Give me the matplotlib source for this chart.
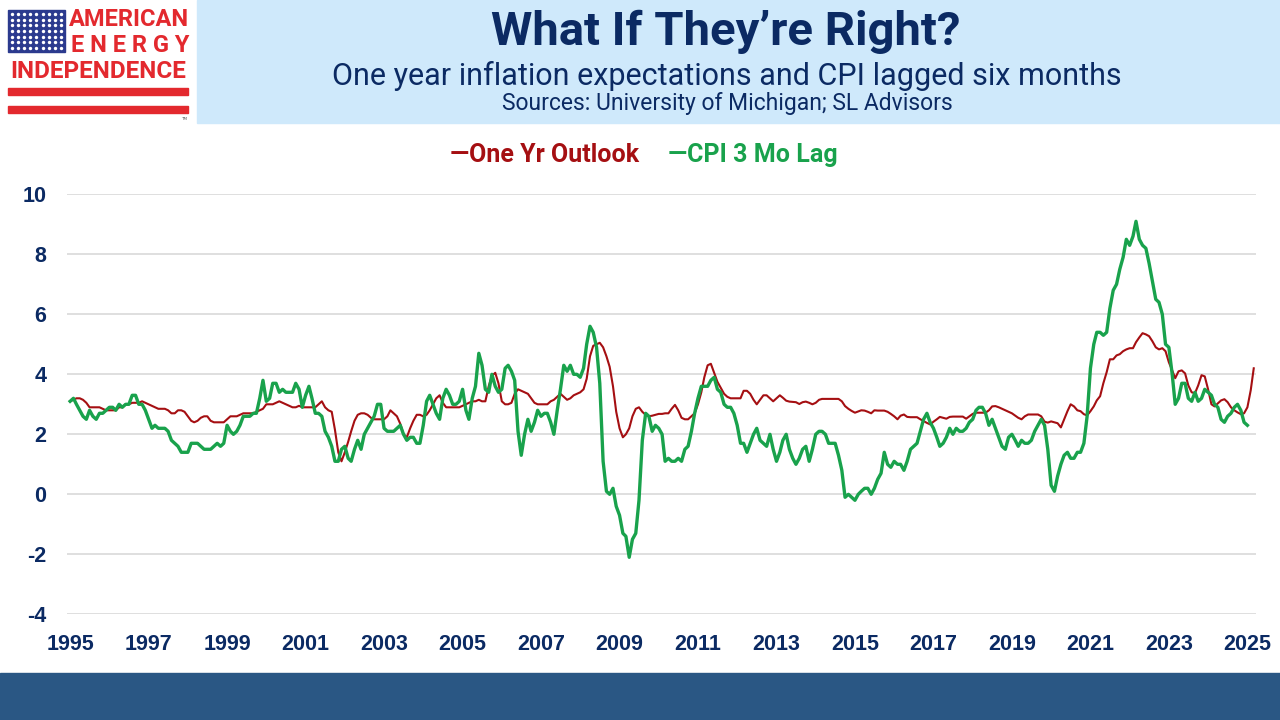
import numpy as np
import pandas as pd
import matplotlib
matplotlib.use("Agg")
import matplotlib.pyplot as plt
from matplotlib.patches import Rectangle

plt.rcParams['axes.unicode_minus'] = False

# University of Michigan one year outlook (3 mo avg), monthly from Jan 1995
outlook_start = "1995-01-01"
outlook = [
    3.1, 3.15, 3.2, 3.2, 3.15, 3.05, 2.9, 2.9, 2.9, 2.9, 2.85, 2.8,
    2.8, 2.8, 2.8, 2.9, 2.9, 3.0, 3.0, 3.05, 3.05, 3.05, 3.1, 3.05,
    3.0, 2.95, 2.9, 2.85, 2.85, 2.85, 2.8, 2.7, 2.7, 2.8, 2.8, 2.75,
    2.6, 2.45, 2.4, 2.45, 2.55, 2.6, 2.6, 2.45, 2.4, 2.4, 2.4, 2.4,
    2.5, 2.6, 2.6, 2.6, 2.65, 2.7, 2.7, 2.7, 2.7, 2.75, 2.8, 2.85,
    3.0, 3.0, 3.0, 3.05, 3.1, 3.05, 3.0, 2.95, 2.9, 2.9, 2.95, 2.9,
    2.9, 2.9, 2.9, 2.9, 3.0, 3.1, 2.9, 2.8, 2.75, 2.15, 1.4, 1.1,
    1.4, 1.75, 2.1, 2.45, 2.65, 2.7, 2.7, 2.65, 2.55, 2.5, 2.5, 2.5,
    2.5, 2.6, 2.8, 2.7, 2.6, 2.35, 2.0, 1.9, 2.2, 2.45, 2.65, 2.65,
    2.6, 2.65, 2.8, 3.0, 3.2, 3.3, 3.05, 2.9, 2.9, 2.9, 2.9, 2.9,
    2.95, 3.0, 3.05, 3.1, 3.1, 3.15, 3.1, 3.1, 3.6, 3.95, 4.05, 3.7,
    3.1, 3.0, 3.0, 3.05, 3.35, 3.5, 3.45, 3.4, 3.35, 3.2, 3.05, 3.0,
    3.0, 3.0, 3.0, 3.1, 3.15, 3.25, 3.35, 3.25, 3.15, 3.2, 3.3, 3.35,
    3.4, 3.5, 3.85, 4.6, 4.95, 5.0, 5.05, 4.9, 4.6, 4.25, 3.6, 2.75,
    2.2, 1.9, 2.0, 2.2, 2.6, 2.85, 2.9, 2.75, 2.65, 2.6, 2.62, 2.65,
    2.68, 2.68, 2.7, 2.7, 2.85, 2.98, 2.8, 2.55, 2.5, 2.5, 2.6, 2.7,
    3.0, 3.4, 3.9, 4.3, 4.35, 4.05, 3.75, 3.55, 3.35, 3.25, 3.2, 3.2,
    3.2, 3.2, 3.45, 3.45, 3.35, 3.15, 3.0, 3.15, 3.3, 3.3, 3.2, 3.1,
    3.2, 3.3, 3.22, 3.12, 3.09, 3.08, 3.07, 3.01, 3.07, 3.09, 3.05, 3.0,
    3.05, 3.15, 3.18, 3.18, 3.18, 3.18, 3.18, 3.18, 3.1, 2.94, 2.85, 2.78,
    2.72, 2.76, 2.8, 2.79, 2.75, 2.7, 2.8, 2.79, 2.79, 2.79, 2.75, 2.68,
    2.6, 2.5, 2.62, 2.66, 2.58, 2.57, 2.57, 2.57, 2.5, 2.44, 2.38, 2.33,
    2.42, 2.5, 2.58, 2.55, 2.52, 2.58, 2.59, 2.59, 2.59, 2.59, 2.52, 2.6,
    2.68, 2.72, 2.72, 2.72, 2.72, 2.8, 2.93, 2.94, 2.9, 2.85, 2.8, 2.75,
    2.7, 2.62, 2.55, 2.5, 2.6, 2.66, 2.66, 2.66, 2.66, 2.6, 2.42, 2.39,
    2.43, 2.4, 2.37, 2.23, 2.5, 2.77, 3.0, 2.93, 2.8, 2.77, 2.67, 2.63,
    2.77, 2.93, 3.13, 3.27, 3.7, 4.07, 4.5, 4.5, 4.63, 4.67, 4.77, 4.83,
    4.87, 4.87, 5.07, 5.23, 5.37, 5.33, 5.27, 5.1, 4.9, 4.83, 4.87, 4.77,
    4.4, 4.13, 3.87, 4.1, 4.13, 4.03, 3.63, 3.4, 3.37, 3.63, 3.97, 3.93,
    3.5, 3.0, 2.93, 3.03, 3.13, 3.17, 3.07, 2.9, 2.8, 2.73, 2.67, 2.7,
    2.9, 3.47, 4.2,
]

# CPI y/y, shifted three months earlier (Apr 1995 value sits at Jan 1995)
cpi_start = "1995-01-01"
cpi_lag = [
    3.1, 3.2, 3.0, 2.8, 2.6, 2.5, 2.8, 2.6, 2.5,
    2.7, 2.7, 2.8, 2.9, 2.9, 2.8, 3.0, 2.9, 3.0, 3.0, 3.3, 3.3,
    3.0, 3.0, 2.8, 2.5, 2.2, 2.3, 2.2, 2.2, 2.2, 2.1, 1.8, 1.7,
    1.6, 1.4, 1.4, 1.4, 1.7, 1.7, 1.7, 1.6, 1.5, 1.5, 1.5, 1.6,
    1.7, 1.6, 1.7, 2.3, 2.1, 2.0, 2.1, 2.3, 2.6, 2.6, 2.6, 2.7,
    2.7, 3.2, 3.8, 3.1, 3.2, 3.7, 3.7, 3.4, 3.5, 3.4, 3.4, 3.4,
    3.7, 3.5, 2.9, 3.3, 3.6, 3.2, 2.7, 2.7, 2.6, 2.1, 1.9, 1.6,
    1.1, 1.1, 1.5, 1.6, 1.2, 1.1, 1.5, 1.8, 1.5, 2.0, 2.2, 2.4,
    2.6, 3.0, 3.0, 2.2, 2.1, 2.1, 2.1, 2.2, 2.3, 2.0, 1.8, 1.9,
    1.9, 1.7, 1.7, 2.3, 3.1, 3.3, 3.0, 2.7, 2.5, 3.2, 3.5, 3.3,
    3.0, 3.0, 3.1, 3.5, 2.8, 2.5, 3.2, 3.6, 4.7, 4.3, 3.5, 3.4,
    4.0, 3.6, 3.4, 3.5, 4.2, 4.3, 4.1, 3.8, 2.1, 1.3, 2.0, 2.5,
    2.1, 2.4, 2.8, 2.6, 2.7, 2.7, 2.4, 2.0, 2.8, 3.5, 4.3, 4.1,
    4.3, 4.0, 4.0, 3.9, 4.2, 5.0, 5.6, 5.4, 4.9, 3.7, 1.1, 0.1,
    0.0, 0.2, -0.4, -0.7, -1.3, -1.4, -2.1, -1.5, -1.3, -0.2, 1.8, 2.7,
    2.6, 2.1, 2.3, 2.2, 2.0, 1.1, 1.2, 1.1, 1.1, 1.2, 1.1, 1.5,
    1.6, 2.1, 2.7, 3.2, 3.6, 3.6, 3.6, 3.8, 3.9, 3.5, 3.4, 3.0,
    2.9, 2.9, 2.7, 2.3, 1.7, 1.7, 1.4, 1.7, 2.0, 2.2, 1.8, 1.7,
    1.6, 2.0, 1.5, 1.1, 1.4, 1.8, 2.0, 1.5, 1.2, 1.0, 1.2, 1.5,
    1.6, 1.1, 1.5, 2.0, 2.1, 2.1, 2.0, 1.7, 1.7, 1.7, 1.3, 0.8,
    -0.1, 0.0, -0.1, -0.2, 0.0, 0.1, 0.2, 0.2, 0.0, 0.2, 0.5, 0.7,
    1.4, 1.0, 0.9, 1.1, 1.0, 1.0, 0.8, 1.1, 1.5, 1.6, 1.7, 2.1,
    2.5, 2.7, 2.4, 2.2, 1.9, 1.6, 1.7, 1.9, 2.2, 2.0, 2.2, 2.1,
    2.1, 2.2, 2.4, 2.5, 2.8, 2.9, 2.9, 2.7, 2.3, 2.5, 2.2, 1.9,
    1.6, 1.5, 1.9, 2.0, 1.8, 1.6, 1.8, 1.7, 1.7, 1.8, 2.1, 2.3,
    2.5, 2.3, 1.5, 0.3, 0.1, 0.6, 1.0, 1.3, 1.4, 1.2, 1.2, 1.4,
    1.4, 1.7, 2.6, 4.2, 5.0, 5.4, 5.4, 5.3, 5.4, 6.2, 6.8, 7.0,
    7.5, 7.9, 8.5, 8.3, 8.6, 9.1, 8.5, 8.3, 8.2, 7.7, 7.1, 6.5,
    6.4, 6.0, 5.0, 4.9, 4.0, 3.0, 3.2, 3.7, 3.7, 3.2, 3.1, 3.4,
    3.1, 3.2, 3.5, 3.4, 3.3, 3.0, 2.9, 2.5, 2.4, 2.6, 2.7, 2.9,
    3.0, 2.8, 2.4, 2.3,
]

tick_years = ["1995", "1997", "1999", "2001", "2003", "2005", "2007", "2009",
              "2011", "2013", "2015", "2017", "2019", "2021", "2023", "2025"]
y_ticks = [-4, -2, 0, 2, 4, 6, 8, 10]

NAVY = "#0B2A63"
RED = "#A50F12"
GREEN = "#19A24C"
LOGO_RED = "#E3292E"

fig = plt.figure(figsize=(12.8, 7.2), dpi=100)
fig.patch.set_facecolor("white")

# header band and footer band
fig.add_artist(Rectangle((197 / 1280, 1 - 123 / 720), 1, 123 / 720,
                         transform=fig.transFigure, color="#CFE9FB", zorder=0))
fig.add_artist(Rectangle((0, 0), 1, 47 / 720, transform=fig.transFigure,
                         color="#2A5784", zorder=0))

narrow = ["Liberation Sans Narrow", "Roboto", "DejaVu Sans"]
fig.text(0.567, 0.956, "What If They\u2019re Right?", ha="center", va="center",
         fontsize=34, fontweight="bold", color=NAVY, family=narrow)
fig.text(0.568, 0.894, "One year inflation expectations and CPI lagged six months",
         ha="center", va="center", fontsize=22, color=NAVY, family=narrow)
fig.text(0.568, 0.856, "Sources: University of Michigan; SL Advisors",
         ha="center", va="center", fontsize=16.5, color=NAVY, family=narrow)

fig.text(450 / 1280, 1 - 155 / 720, "\u2014One Yr Outlook", ha="left", va="center",
         fontsize=18, fontweight="bold", color=RED, family=narrow)
fig.text(668 / 1280, 1 - 155 / 720, "\u2014CPI 3 Mo Lag", ha="left", va="center",
         fontsize=18, fontweight="bold", color=GREEN, family=narrow)

# logo
lax = fig.add_axes([0, 1 - 123 / 720, 197 / 1280, 123 / 720])
lax.set_xlim(0, 197)
lax.set_ylim(123, 0)
lax.axis("off")
lax.add_patch(Rectangle((8, 10), 57, 42, color="#2B3A8E"))
sx, sy = np.meshgrid(np.linspace(12, 61, 9), np.linspace(14, 48, 7))
lax.scatter(sx.ravel(), sy.ravel(), s=6, color="white", marker="o", linewidths=0)
lax.text(189, 19.5, "AMERICAN", ha="right", va="center", fontsize=17,
         fontweight="bold", color=LOGO_RED, family="Roboto")
lax.text(189, 46, "E N E R G Y", ha="right", va="center", fontsize=17,
         fontweight="bold", color=LOGO_RED, family="Roboto")
lax.text(98, 71, "INDEPENDENCE", ha="center", va="center", fontsize=17.5,
         fontweight="bold", color=LOGO_RED, family="Roboto")
lax.add_patch(Rectangle((8, 88), 180, 7, color=LOGO_RED))
lax.add_patch(Rectangle((8, 106), 180, 7, color=LOGO_RED))
lax.text(184, 119, "TM", ha="center", va="center", fontsize=3, color="#555555")

# main chart
ax = fig.add_axes([67 / 1280, 1 - 614.3 / 720, (1256 - 67) / 1280, 420 / 720])
out_dates = pd.date_range(outlook_start, periods=len(outlook), freq="MS")
cpi_dates = pd.date_range(cpi_start, periods=len(cpi_lag), freq="MS")

ax.plot(out_dates, outlook, color=RED, lw=1.5, zorder=3)
ax.plot(cpi_dates, cpi_lag, color=GREEN, lw=2.4, zorder=4)

ax.set_ylim(-4, 10)
ax.set_yticks(y_ticks)
ax.set_xlim(pd.Timestamp("1994-12-03"), pd.Timestamp("2025-03-22"))
ax.set_xticks([pd.Timestamp(y + "-01-01") for y in tick_years])
ax.set_xticklabels(tick_years)
ax.grid(axis="y", color="#D9D9D9", lw=1.2)
ax.set_axisbelow(True)
for s in ax.spines.values():
    s.set_visible(False)
ax.tick_params(length=0)
ax.tick_params(axis="y", pad=15)
ax.tick_params(axis="x", pad=14.5)
for lab in ax.get_xticklabels() + ax.get_yticklabels():
    lab.set_fontfamily("Liberation Sans")
    lab.set_fontweight("bold")
    lab.set_fontsize(15.5)
    lab.set_color(NAVY)

fig.savefig("out.png", dpi=100)
